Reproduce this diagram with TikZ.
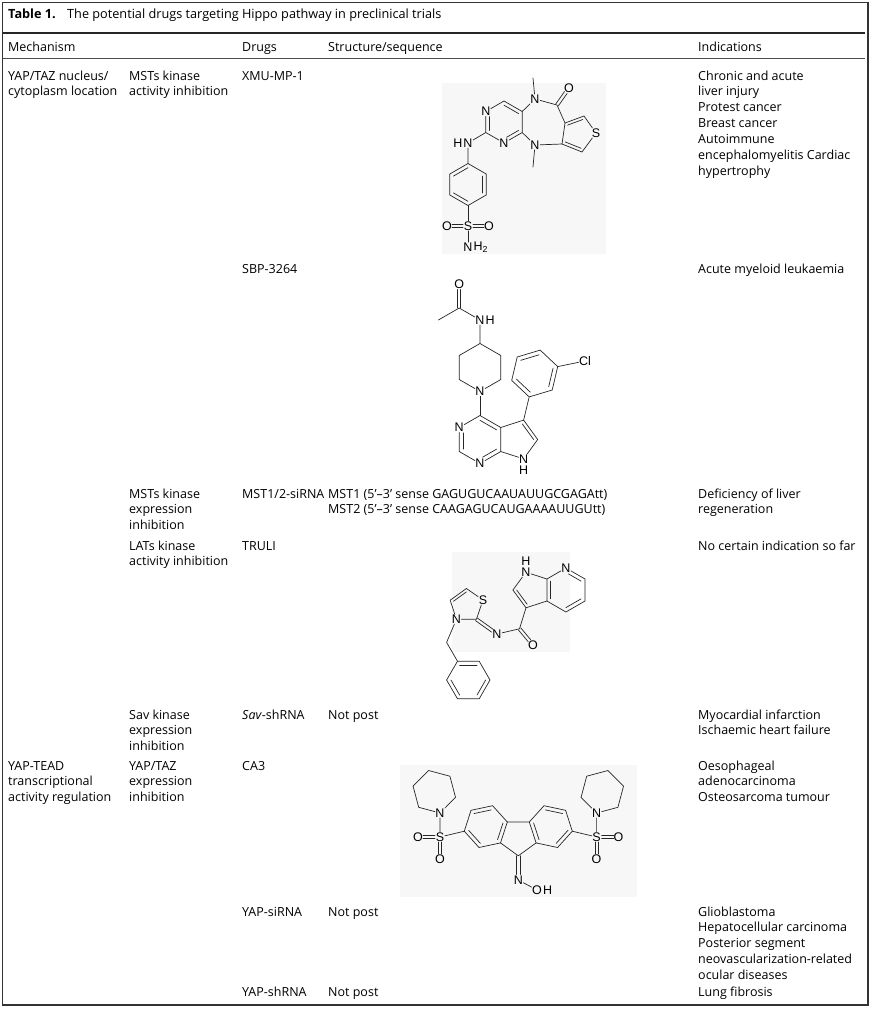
\documentclass[tikz,border=0pt]{standalone}
\usepackage{fontspec}
\setmainfont{Open Sans}
\newfontfamily\chemfont{Liberation Sans}
\usetikzlibrary{calc}

\newcommand\tabfont{\fontsize{12.5}{15}\selectfont}
\newcommand\atomfont{\chemfont\fontsize{12.5}{13}\selectfont}

\tikzset{
  txt/.style={anchor=base west, inner sep=0pt, font=\tabfont},
  atom/.style={inner sep=0.4pt, font=\atomfont},
  bond/.style={line width=0.7pt, black!85, line cap=round},
  molbg/.style={fill=black!3},
}

% one table cell, one node per line
\newcommand\tabcell[4]{\foreach \entry [count=\i] in {#4}
  \node[txt] (#1-\i) at (#2, {#3+15.85*(\i-1)}) {\entry};}
% inner line of a ring double bond (ends, ring centre)
\newcommand\ringdbl[4][]{\draw[bond,#1] ($(#2)!.2!(#4)$) -- ($(#3)!.2!(#4)$);}
% double bond outside a ring
\newcommand\exdbl[3][]{%
  \draw[bond,#1] ($(#2)!1.6pt!90:(#3)$) -- ($(#3)!1.6pt!-90:(#2)$);
  \draw[bond,#1] ($(#2)!1.6pt!-90:(#3)$) -- ($(#3)!1.6pt!90:(#2)$);}

\begin{document}
\begin{tikzpicture}[x=1pt,y=-1pt]
  \useasboundingbox (0,0) rectangle (874,1010);

  % Frame and rules
  \draw[line width=1.3pt, black!80] (2.5,2.5) rectangle (868,1005);
  \draw[line width=2.2pt, black!85] (2.5,33) -- (865,33);
  \draw[line width=0.8pt, black!70] (2.5,58.5) -- (865,58.5);

  % Title and header
  \node[txt, font=\fontsize{12.7}{15}\selectfont\bfseries] (ttl) at (8,18) {Table 1.};
  \node[txt, font=\fontsize{12.7}{15}\selectfont] (ttltext) at (67,18) {The potential drugs targeting Hippo pathway in preclinical trials};
  \node[txt] (hmech) at (8,51) {Mechanism};
  \node[txt] (hdrug) at (242,51) {Drugs};
  \node[txt] (hstruct) at (328,51) {Structure/sequence};
  \node[txt] (hind) at (698,51) {Indications};

  % Rows
  \tabcell{mechA}{8}{80}{YAP/TAZ nucleus/, cytoplasm location}
  \tabcell{subA}{129}{80}{MSTs kinase, activity inhibition}
  \node[txt] (drugA) at (242,80) {XMU-MP-1};
  \tabcell{indA}{698}{80}{Chronic and acute, liver injury, Protest cancer, Breast cancer, Autoimmune, encephalomyelitis Cardiac, hypertrophy}

  \node[txt] (drugB) at (242,273) {SBP-3264};
  \node[txt] (indB) at (698,273) {Acute myeloid leukaemia};

  \tabcell{subC}{129}{498}{MSTs kinase, expression, inhibition}
  \node[txt] (drugC) at (242,498) {MST1/2-siRNA};
  \tabcell{seqC}{328}{498}{MST1 (5'--3' sense GAGUGUCAAUAUUGCGAGAtt), MST2 (5'--3' sense CAAGAGUCAUGAAAAUUGUtt)}
  \tabcell{indC}{698}{498}{Deficiency of liver, regeneration}

  \tabcell{subD}{129}{550}{LATs kinase, activity inhibition}
  \node[txt] (drugD) at (242,550) {TRULI};
  \node[txt] (indD) at (698,550) {No certain indication so far};

  \tabcell{subE}{129}{719}{Sav kinase, expression, inhibition}
  \node[txt] (drugE) at (242,719) {\textit{Sav}-shRNA};
  \node[txt] (seqE) at (328,719) {Not post};
  \tabcell{indE}{698}{719}{Myocardial infarction, Ischaemic heart failure}

  \tabcell{mechF}{8}{770}{YAP-TEAD, transcriptional, activity regulation}
  \tabcell{subF}{129}{770}{YAP/TAZ, expression, inhibition}
  \node[txt] (drugF) at (242,770) {CA3};
  \tabcell{indF}{698}{770}{Oesophageal, adenocarcinoma, Osteosarcoma tumour}

  \node[txt] (drugG) at (242,916) {YAP-siRNA};
  \node[txt] (seqG) at (328,916) {Not post};
  \tabcell{indG}{698}{916}{Glioblastoma, Hepatocellular carcinoma, Posterior segment, neovascularization-related, ocular diseases}

  \node[txt] (drugH) at (242,996) {YAP-shRNA};
  \node[txt] (seqH) at (328,996) {Not post};
  \node[txt] (indH) at (698,996) {Lung fibrosis};

  % XMU-MP-1
  \fill[molbg] (442,83) rectangle (606,254);
  \coordinate (xP) at (504,122);
  \node[atom] (xn1) at (485.8,111.5) {N};
  \coordinate (xc1) at (504,101);
  \coordinate (xc4a) at (522.2,111.5);
  \coordinate (xc10a) at (522.2,132.5);
  \node[atom] (xn3) at (504,143) {N};
  \coordinate (xc2) at (485.8,132.5);
  \node[atom] (xn5) at (535,99) {N};
  \coordinate (xc6) at (557,105);
  \node[atom] (xo) at (569,88) {O};
  \coordinate (xc6a) at (565,123);
  \coordinate (xc9a) at (562,144);
  \node[atom] (xn10) at (535,145) {N};
  \coordinate (xme1) at (533,78);
  \coordinate (xme2) at (533,167);
  \coordinate (xt1) at (584,116);
  \node[atom] (xs) at (596,133) {S};
  \coordinate (xt2) at (582,152);
  \coordinate (xT) at (577.8,133.6);
  \node[atom] (xnh) at (468,143) {N};
  \node[atom, anchor=east] (xh) at (xnh.west) {H};
  \coordinate (xb1) at (468,163.5);
  \coordinate (xb2) at (486.2,174);
  \coordinate (xb3) at (486.2,195);
  \coordinate (xb4) at (468,205.5);
  \coordinate (xb5) at (449.8,195);
  \coordinate (xb6) at (449.8,174);
  \coordinate (xB) at (468,184.5);
  \node[atom] (xs2) at (468,226) {S};
  \node[atom] (xo2) at (447,226) {O};
  \node[atom] (xo3) at (489,226) {O};
  \node[atom] (xn4) at (468,247) {N};
  \node[atom, anchor=west] (xh2) at (xn4.east) {H\textsubscript{2}};
  \draw[bond] (xn1) -- (xc1) -- (xc4a) -- (xc10a) -- (xn3) -- (xc2) -- (xn1);
  \ringdbl{xc1}{xc4a}{xP}
  \ringdbl[shorten >=3pt]{xc10a}{xn3}{xP}
  \ringdbl[shorten <=3pt]{xn1}{xc2}{xP}
  \draw[bond] (xc4a) -- (xn5) -- (xc6) -- (xc6a) -- (xc9a) -- (xn10) -- (xc10a);
  \exdbl[shorten >=5.5pt]{xc6}{xo}
  \draw[bond] (xn5) -- (xme1);
  \draw[bond] (xn10) -- (xme2);
  \draw[bond] (xc6a) -- (xt1) -- (xs) -- (xt2) -- (xc9a);
  \ringdbl{xc6a}{xt1}{xT}
  \ringdbl{xt2}{xc9a}{xT}
  \draw[bond] (xc2) -- (xnh) -- (xb1);
  \draw[bond] (xb1) -- (xb2) -- (xb3) -- (xb4) -- (xb5) -- (xb6) -- cycle;
  \ringdbl{xb2}{xb3}{xB}
  \ringdbl{xb4}{xb5}{xB}
  \ringdbl{xb6}{xb1}{xB}
  \draw[bond] (xb4) -- (xs2) -- (xn4);
  \exdbl[shorten <=5pt, shorten >=5pt]{xs2}{xo2}
  \exdbl[shorten <=5pt, shorten >=5pt]{xs2}{xo3}

  % SBP-3264
  \coordinate (sq1) at (480,343.5);
  \coordinate (sq2) at (500.8,355.5);
  \coordinate (sq3) at (500.8,379.5);
  \node[atom] (sn1) at (480,391.5) {N};
  \coordinate (sq5) at (459.2,379.5);
  \coordinate (sq6) at (459.2,355.5);
  \node[atom] (snh) at (480,320) {N};
  \node[atom, anchor=west] (sh) at (snh.east) {H};
  \coordinate (sc7) at (459.2,308);
  \node[atom] (so) at (459.2,284) {O};
  \coordinate (sme) at (438.4,320);
  \coordinate (sP) at (480,439.5);
  \coordinate (sc4) at (480,415.5);
  \coordinate (sc4a) at (500.8,427.5);
  \coordinate (sc7a) at (500.8,451.5);
  \node[atom] (sn2) at (480,463.5) {N};
  \coordinate (sc2) at (459.2,451.5);
  \node[atom] (sn3) at (459.2,427.5) {N};
  \coordinate (sc5) at (523.6,420.1);
  \coordinate (sc6) at (537.7,439.5);
  \node[atom] (sn7) at (523.6,458.9) {N};
  \node[atom, anchor=north] (sh7) at ([yshift=-1.5pt]sn7.south) {H};
  \coordinate (sR) at (517.3,439.5);
  \coordinate (sp1) at (529.2,396.9);
  \coordinate (sp2) at (511.7,380.4);
  \coordinate (sp3) at (517.2,357.0);
  \coordinate (sp4) at (540.2,350.1);
  \coordinate (sp5) at (557.7,366.6);
  \coordinate (sp6) at (552.2,390.0);
  \coordinate (sC) at (534.7,373.5);
  \node[atom] (scl) at (585,361) {Cl};
  \draw[bond] (sq1) -- (sq2) -- (sq3) -- (sn1) -- (sq5) -- (sq6) -- (sq1);
  \draw[bond] (sq1) -- (snh) -- (sc7) -- (sme);
  \exdbl[shorten >=5.5pt]{sc7}{so}
  \draw[bond] (sn1) -- (sc4);
  \draw[bond] (sc4) -- (sc4a) -- (sc7a) -- (sn2) -- (sc2) -- (sn3) -- (sc4);
  \ringdbl{sc4}{sc4a}{sP}
  \ringdbl[shorten >=3pt]{sc7a}{sn2}{sP}
  \ringdbl[shorten >=3pt]{sc2}{sn3}{sP}
  \draw[bond] (sc4a) -- (sc5) -- (sc6) -- (sn7) -- (sc7a);
  \ringdbl{sc5}{sc6}{sR}
  \draw[bond] (sc5) -- (sp1) -- (sp2) -- (sp3) -- (sp4) -- (sp5) -- (sp6) -- (sp1);
  \draw[bond] (sp5) -- (scl);
  \ringdbl{sp1}{sp2}{sC}
  \ringdbl{sp3}{sp4}{sC}
  \ringdbl{sp5}{sp6}{sC}

  % TRULI
  \fill[molbg] (452,552) rectangle (570,652);
  \coordinate (tP) at (565.9,590);
  \node[atom] (tn7) at (565.9,568) {N};
  \coordinate (tc1) at (585,579);
  \coordinate (tc2) at (585,601);
  \coordinate (tc3) at (565.9,612);
  \coordinate (tc3a) at (546.9,601);
  \coordinate (tc7a) at (546.9,579);
  \node[atom] (tn1) at (526,572.2) {N};
  \node[atom, anchor=south] (th) at ([yshift=1.5pt]tn1.north) {H};
  \coordinate (tc2p) at (512.9,590);
  \coordinate (tc3p) at (526,607.8);
  \coordinate (tR) at (531.7,590);
  \coordinate (tcc) at (519.5,628.8);
  \node[atom] (to) at (533,645) {O};
  \node[atom] (tnx) at (497,634) {N};
  \node[atom] (tzn) at (456.4,619.3) {N};
  \coordinate (tz2) at (476.4,619.3);
  \node[atom] (tzs) at (483,600) {S};
  \coordinate (tz5) at (466.4,588.5);
  \coordinate (tz4) at (450.2,600.2);
  \coordinate (tZ) at (466.4,605.5);
  \coordinate (tch2) at (446.6,642.4);
  \coordinate (tb1) at (457.5,661.2);
  \coordinate (tb2) at (479.2,661.2);
  \coordinate (tb3) at (490,680);
  \coordinate (tb4) at (479.2,698.8);
  \coordinate (tb5) at (457.5,698.8);
  \coordinate (tb6) at (446.6,680);
  \coordinate (tB) at (468.3,680);
  \draw[bond] (tn7) -- (tc1) -- (tc2) -- (tc3) -- (tc3a) -- (tc7a) -- (tn7);
  \ringdbl[shorten <=3pt]{tn7}{tc1}{tP}
  \ringdbl{tc2}{tc3}{tP}
  \ringdbl{tc3a}{tc7a}{tP}
  \draw[bond] (tc7a) -- (tn1) -- (tc2p) -- (tc3p) -- (tc3a);
  \ringdbl{tc2p}{tc3p}{tR}
  \draw[bond] (tc3p) -- (tcc) -- (tnx);
  \exdbl[shorten >=5.5pt]{tcc}{to}
  \exdbl[shorten >=5.5pt]{tz2}{tnx}
  \draw[bond] (tzn) -- (tz2) -- (tzs) -- (tz5) -- (tz4) -- (tzn);
  \ringdbl{tz5}{tz4}{tZ}
  \draw[bond] (tzn) -- (tch2) -- (tb1);
  \draw[bond] (tb1) -- (tb2) -- (tb3) -- (tb4) -- (tb5) -- (tb6) -- cycle;
  \ringdbl{tb1}{tb2}{tB}
  \ringdbl{tb3}{tb4}{tB}
  \ringdbl{tb5}{tb6}{tB}

  % CA3
  \fill[molbg] (400,765) rectangle (637,897);
  \coordinate (ac4a) at (507.3,822);
  \coordinate (ac4b) at (529.3,822);
  \coordinate (ac8a) at (536.1,842.9);
  \coordinate (ac9) at (518.3,855.8);
  \coordinate (ac9a) at (500.5,842.9);
  \coordinate (aL) at (485.8,826.6);
  \coordinate (ac1) at (479.0,847.5);
  \coordinate (ac2) at (464.3,831.2);
  \coordinate (ac3) at (471.0,810.3);
  \coordinate (ac4) at (492.6,805.7);
  \coordinate (aR) at (550.8,826.6);
  \coordinate (ac8) at (557.6,847.5);
  \coordinate (ac7) at (572.3,831.2);
  \coordinate (ac6) at (565.6,810.3);
  \coordinate (ac5) at (544.0,805.7);
  \node[atom] (as1) at (440,837) {S};
  \node[atom] (ao1) at (418,837) {O};
  \node[atom] (ao2) at (440,859) {O};
  \node[atom] (an1) at (440,813) {N};
  \coordinate (al1) at (418.7,807.3);
  \coordinate (al2) at (413.05,786.1);
  \coordinate (al3) at (428.6,770.5);
  \coordinate (al4) at (449.9,776.2);
  \coordinate (al5) at (455.55,797.4);
  \node[atom] (as2) at (596.6,837) {S};
  \node[atom] (ao3) at (618.6,837) {O};
  \node[atom] (ao4) at (596.6,859) {O};
  \node[atom] (an2) at (596.6,813) {N};
  \coordinate (ar1) at (617.9,807.3);
  \coordinate (ar2) at (623.55,786.1);
  \coordinate (ar3) at (608,770.5);
  \coordinate (ar4) at (586.7,776.2);
  \coordinate (ar5) at (581.05,797.4);
  \node[atom] (an3) at (518.3,880) {N};
  \node[atom] (aoh) at (537,890) {O};
  \node[atom, anchor=west] (ah) at (aoh.east) {H};
  \draw[bond] (ac4a) -- (ac4b) -- (ac8a) -- (ac9) -- (ac9a) -- (ac4a);
  \draw[bond] (ac4a) -- (ac4) -- (ac3) -- (ac2) -- (ac1) -- (ac9a);
  \ringdbl{ac4}{ac3}{aL}
  \ringdbl{ac2}{ac1}{aL}
  \ringdbl{ac9a}{ac4a}{aL}
  \draw[bond] (ac4b) -- (ac5) -- (ac6) -- (ac7) -- (ac8) -- (ac8a);
  \ringdbl{ac5}{ac6}{aR}
  \ringdbl{ac7}{ac8}{aR}
  \ringdbl{ac8a}{ac4b}{aR}
  \exdbl[shorten >=5.5pt]{ac9}{an3}
  \draw[bond] (an3) -- (aoh);
  \draw[bond] (ac2) -- (as1) -- (an1);
  \exdbl[shorten <=5pt, shorten >=5pt]{as1}{ao1}
  \exdbl[shorten <=5pt, shorten >=5pt]{as1}{ao2}
  \draw[bond] (an1) -- (al1) -- (al2) -- (al3) -- (al4) -- (al5) -- (an1);
  \draw[bond] (ac7) -- (as2) -- (an2);
  \exdbl[shorten <=5pt, shorten >=5pt]{as2}{ao3}
  \exdbl[shorten <=5pt, shorten >=5pt]{as2}{ao4}
  \draw[bond] (an2) -- (ar1) -- (ar2) -- (ar3) -- (ar4) -- (ar5) -- (an2);
\end{tikzpicture}
\end{document}
